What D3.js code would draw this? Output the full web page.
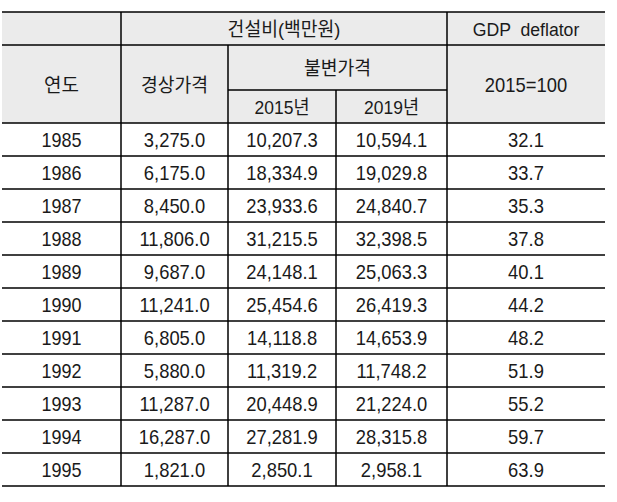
<!DOCTYPE html>
<html><head><meta charset="utf-8">
<script src="https://cdn.jsdelivr.net/npm/d3@7"></script>
<style>
html,body{margin:0;padding:0;background:#fff;}
svg{display:block;}
text{font-family:"Liberation Sans",Arial,"Noto Sans CJK KR",sans-serif;fill:#1a1a1a;}
</style></head>
<body>
<svg id="c" width="617" height="502"></svg>
<script>
const years = ["1985","1986","1987","1988","1989","1990","1991","1992","1993","1994","1995"];
const nominal = [3275.0,6175.0,8450.0,11806.0,9687.0,11241.0,6805.0,5880.0,11287.0,16287.0,1821.0];
const real2015 = [10207.3,18334.9,23933.6,31215.5,24148.1,25454.6,14118.8,11319.2,20448.9,27281.9,2850.1];
const real2019 = [10594.1,19029.8,24840.7,32398.5,25063.3,26419.3,14653.9,11748.2,21224.0,28315.8,2958.1];
const deflator = [32.1,33.7,35.3,37.8,40.1,44.2,48.2,51.9,55.2,59.7,63.9];

const colKeys = ["year","nominal","r2015","r2019","defl"];
const svg = d3.select("#c");
const x = d3.scaleOrdinal().domain(colKeys.concat(["end"])).range([2,121,228,336,447,605]);
const headTop = 12, h1 = 45, h2 = 90, headBot = 123, rowH = 33;
const y = d3.scaleBand().domain(years).range([headBot, headBot + rowH*years.length]);
const bottom = headBot + rowH*years.length;
const fmt1 = d3.format(",.1f");

svg.append("rect").attr("x",x("year")).attr("y",headTop).attr("width",x("end")-x("year")).attr("height",headBot-headTop).attr("fill","#ebebeb");

const g = svg.append("g").attr("stroke","#000").attr("stroke-width",1.5);
const hline = (x1,x2,yy)=>g.append("line").attr("x1",x1).attr("x2",x2).attr("y1",yy).attr("y2",yy);
const vline = (xx,y1,y2)=>g.append("line").attr("x1",xx).attr("x2",xx).attr("y1",y1).attr("y2",y2);
hline(x("year"),x("end"),headTop);
hline(x("year"),x("end"),h1);
hline(x("r2015"),x("defl"),h2);
hline(x("year"),x("end"),headBot);
years.forEach(yr=>hline(x("year"),x("end"),y(yr)+rowH));
vline(x("nominal"),headTop,bottom);
vline(x("defl"),headTop,bottom);
vline(x("r2015"),h1,bottom);
vline(x("r2019"),h2,bottom);

const label=(t,cx,cy,fs,sx)=>svg.append("text").text(t)
  .attr("transform",`translate(${cx},${cy}) scale(${sx||1},1)`)
  .attr("text-anchor","middle").attr("dominant-baseline","central")
  .style("font-size",fs+"px").style("white-space","pre");
const mid=(a,b)=>(x(a)+x(b))/2;
label("건설비(백만원)",mid("nominal","defl"),(headTop+h1)/2+1,19,0.96);
label("GDP  deflator",mid("defl","end"),(headTop+h1)/2+1,19,0.93);
label("연도",mid("year","nominal"),(h1+headBot)/2+1,19,1);
label("경상가격",mid("nominal","r2015"),(h1+headBot)/2+1,19,0.96);
label("불변가격",mid("r2015","defl"),(h1+h2)/2+1,19,0.96);
label("2015년",mid("r2015","r2019"),(h2+headBot)/2+1,19,0.92);
label("2019년",mid("r2019","defl"),(h2+headBot)/2+1,19,0.92);
label("2015=100",mid("defl","end"),(h1+headBot)/2+1,20,0.92);

years.forEach((yr,i)=>{
  const cy=y(yr)+rowH/2+1;
  label(yr,mid("year","nominal"),cy,20,0.9);
  label(fmt1(nominal[i]),mid("nominal","r2015"),cy,20,0.92);
  label(fmt1(real2015[i]),mid("r2015","r2019"),cy,20,0.92);
  label(fmt1(real2019[i]),mid("r2019","defl"),cy,20,0.92);
  label(deflator[i].toFixed(1),mid("defl","end"),cy,20,0.92);
});
</script>
</body></html>
